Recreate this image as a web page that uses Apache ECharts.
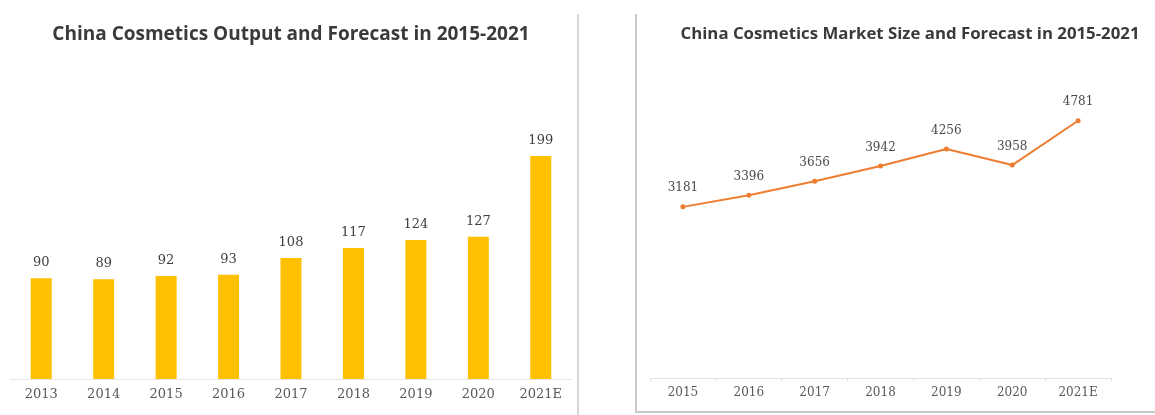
<!DOCTYPE html>
<html>
<head>
<meta charset="utf-8">
<script src="https://cdn.jsdelivr.net/npm/echarts@6/dist/echarts.min.js"></script>
<style>
html,body{margin:0;padding:0;background:#fff;}
#chart{width:1155px;height:415px;}
</style>
</head>
<body>
<div id="chart"></div>
<script>
const outputCategories = ['2013','2014','2015','2016','2017','2018','2019','2020','2021E'];
const outputValues = [90, 89, 92, 93, 108, 117, 124, 127, 199];
const marketCategories = ['2015','2016','2017','2018','2019','2020','2021E'];
const marketValues = [3181, 3396, 3656, 3942, 4256, 3958, 4781];
const leftTitle = 'China Cosmetics Output and Forecast in 2015-2021';
const rightTitle = 'China Cosmetics Market Size and Forecast in 2015-2021';

const chart = echarts.init(document.getElementById('chart'), null, {renderer:'canvas'});
const serif = '"DejaVu Serif", serif';
const option = {
  animation: false,
  backgroundColor: '#fff',
  title: [
    {text: leftTitle, left: 286, top: 20, textAlign: 'center',
     textStyle: {fontFamily: '"Open Sans"', fontWeight: 'bold', fontSize: 19, color: '#3a3a3a'}},
    {text: rightTitle, left: 905, top: 21, textAlign: 'center',
     textStyle: {fontFamily: '"Open Sans"', fontWeight: 'bold', fontSize: 16.8, color: '#3a3a3a'}}
  ],
  grid: [
    {left: 10, right: 583, top: 155, bottom: 36},
    {left: 650, right: 44, top: 109, bottom: 37}
  ],
  xAxis: [
    {type: 'category', gridIndex: 0, data: outputCategories,
     axisLine: {lineStyle: {color: '#e6e6e6', width: 1}},
     axisTick: {show: false},
     axisLabel: {color: '#595959', fontFamily: serif, fontSize: 13, margin: 9}},
    {type: 'category', gridIndex: 1, data: marketCategories,
     axisLine: {lineStyle: {color: '#e3e3e3', width: 1}},
     axisTick: {show: true, length: 3, lineStyle: {color: '#e0e0e0'}},
     axisLabel: {color: '#595959', fontFamily: serif, fontSize: 12, margin: 9}}
  ],
  yAxis: [
    {type: 'value', gridIndex: 0, min: 0, max: 200, show: false, splitLine: {show: false}},
    {type: 'value', gridIndex: 1, min: 0, max: 5000, show: false, splitLine: {show: false}}
  ],
  series: [
    {type: 'bar', xAxisIndex: 0, yAxisIndex: 0, data: outputValues, barWidth: 21,
     itemStyle: {color: '#FFC000'},
     label: {show: true, position: 'top', distance: 9, color: '#404040', fontFamily: serif, fontSize: 13}},
    {type: 'line', xAxisIndex: 1, yAxisIndex: 1, data: marketValues,
     lineStyle: {color: '#ED7D31', width: 2},
     itemStyle: {color: '#ED7D31'},
     symbol: 'circle', symbolSize: 5,
     label: {show: true, position: 'top', distance: 10, color: '#4a4a4a', fontFamily: serif, fontSize: 12}}
  ],
  graphic: [
    {type: 'line', shape: {x1: 578, y1: 14, x2: 578, y2: 415}, style: {stroke: '#c8c8c8', lineWidth: 1.5}},
    {type: 'polyline', shape: {points: [[636, 14], [636, 412], [1155, 412]]}, style: {stroke: '#c8c8c8', lineWidth: 2, fill: null}}
  ]
};
chart.setOption(option);
</script>
</body>
</html>
